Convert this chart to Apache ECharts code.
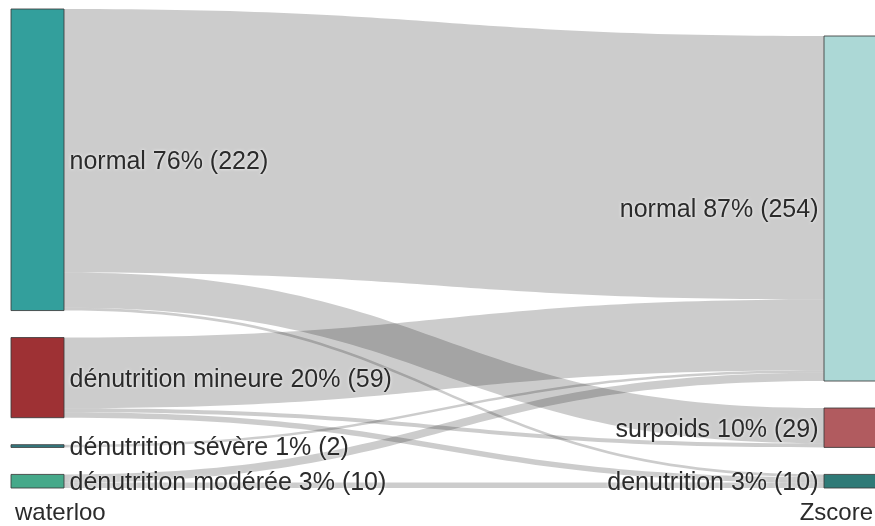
<!DOCTYPE html>
<html>
<head>
<meta charset="utf-8">
<script src="https://cdn.jsdelivr.net/npm/echarts@6/dist/echarts.min.js"></script>
<style>
  html, body { margin: 0; padding: 0; background: #fff; }
  #main { width: 875px; height: 526px; }
</style>
</head>
<body>
<div id="main"></div>
<script>
// columns
var leftNames = ['normal', 'dénutrition mineure', 'dénutrition sévère', 'dénutrition modérée'];
var leftValues = [222, 59, 2, 10];
var leftColors = ['#339f9c', '#9e3134', '#347b82', '#46a98a'];

var rightNames = ['normal', 'surpoids', 'denutrition'];
var rightValues = [254, 29, 10];
var rightColors = ['#acd8d6', '#b15b5f', '#2f7a77'];

// flows: [left index, right index, value]
var flowSource = [0, 0, 0, 1, 1, 1, 2, 3, 3];
var flowTarget = [0, 1, 2, 0, 1, 2, 0, 0, 2];
var flowValue = [194, 26, 2, 52, 3, 4, 2, 6, 4];

var columnTitles = ['waterloo', 'Zscore'];

var total = 0;
for (var i = 0; i < leftValues.length; i++) total += leftValues[i];

var boxTop = 9, boxBottom = 38, gap = 27;
var boxHeight = 526 - boxTop - boxBottom;
// same scale as ECharts uses for the tallest column
var ky = (boxHeight - (leftValues.length - 1) * gap) / total;
var rightShift = boxHeight - (total * ky + (rightValues.length - 1) * gap);

var labelFont = {
    fontSize: 25,
    fontFamily: 'Liberation Sans, Arial, sans-serif',
    color: '#2b2b2b',
    offset: [0, 2],
    textShadowColor: 'rgba(255,255,255,0.95)',
    textShadowBlur: 3
};

function pctLabel(name, value) {
    return name + ' ' + Math.round(value / total * 100) + '% (' + value + ')';
}

var nodes = [];
for (var i = 0; i < leftNames.length; i++) {
    nodes.push({
        name: 'L' + i,
        value: leftValues[i],
        itemStyle: { color: leftColors[i] },
        label: Object.assign({ position: 'right', distance: 5, formatter: pctLabel(leftNames[i], leftValues[i]) }, labelFont)
    });
}
var cum = 0;
for (var j = 0; j < rightNames.length; j++) {
    var y = rightShift + cum * ky + j * gap;
    cum += rightValues[j];
    nodes.push({
        name: 'R' + j,
        value: rightValues[j],
        localY: y / boxHeight,
        itemStyle: { color: rightColors[j] },
        label: Object.assign({ position: 'left', distance: 5, formatter: pctLabel(rightNames[j], rightValues[j]) }, labelFont)
    });
}

var links = [];
for (var k = 0; k < flowValue.length; k++) {
    links.push({ source: 'L' + flowSource[k], target: 'R' + flowTarget[k], value: flowValue[k] });
}

var myChart = echarts.init(document.getElementById('main'));
var option = {
    animation: false,
    graphic: [
        { type: 'text', left: 15, top: 501, style: { text: columnTitles[0], font: '24px "Liberation Sans", Arial', fill: '#2b2b2b' } },
        { type: 'text', right: 2, top: 501, style: { text: columnTitles[1], font: '24px "Liberation Sans", Arial', fill: '#2b2b2b' } }
    ],
    series: [
        {
            type: 'sankey',
            left: 11,
            right: -2,
            top: boxTop,
            bottom: boxBottom,
            nodeWidth: 53,
            nodeGap: gap,
            layoutIterations: 0,
            draggable: false,
            emphasis: { disabled: true },
            itemStyle: { borderColor: 'rgba(60,60,60,0.85)', borderWidth: 1 },
            lineStyle: { color: '#000', opacity: 0.2, curveness: 0.5 },
            data: nodes,
            links: links
        }
    ]
};
myChart.setOption(option);
</script>
</body>
</html>
